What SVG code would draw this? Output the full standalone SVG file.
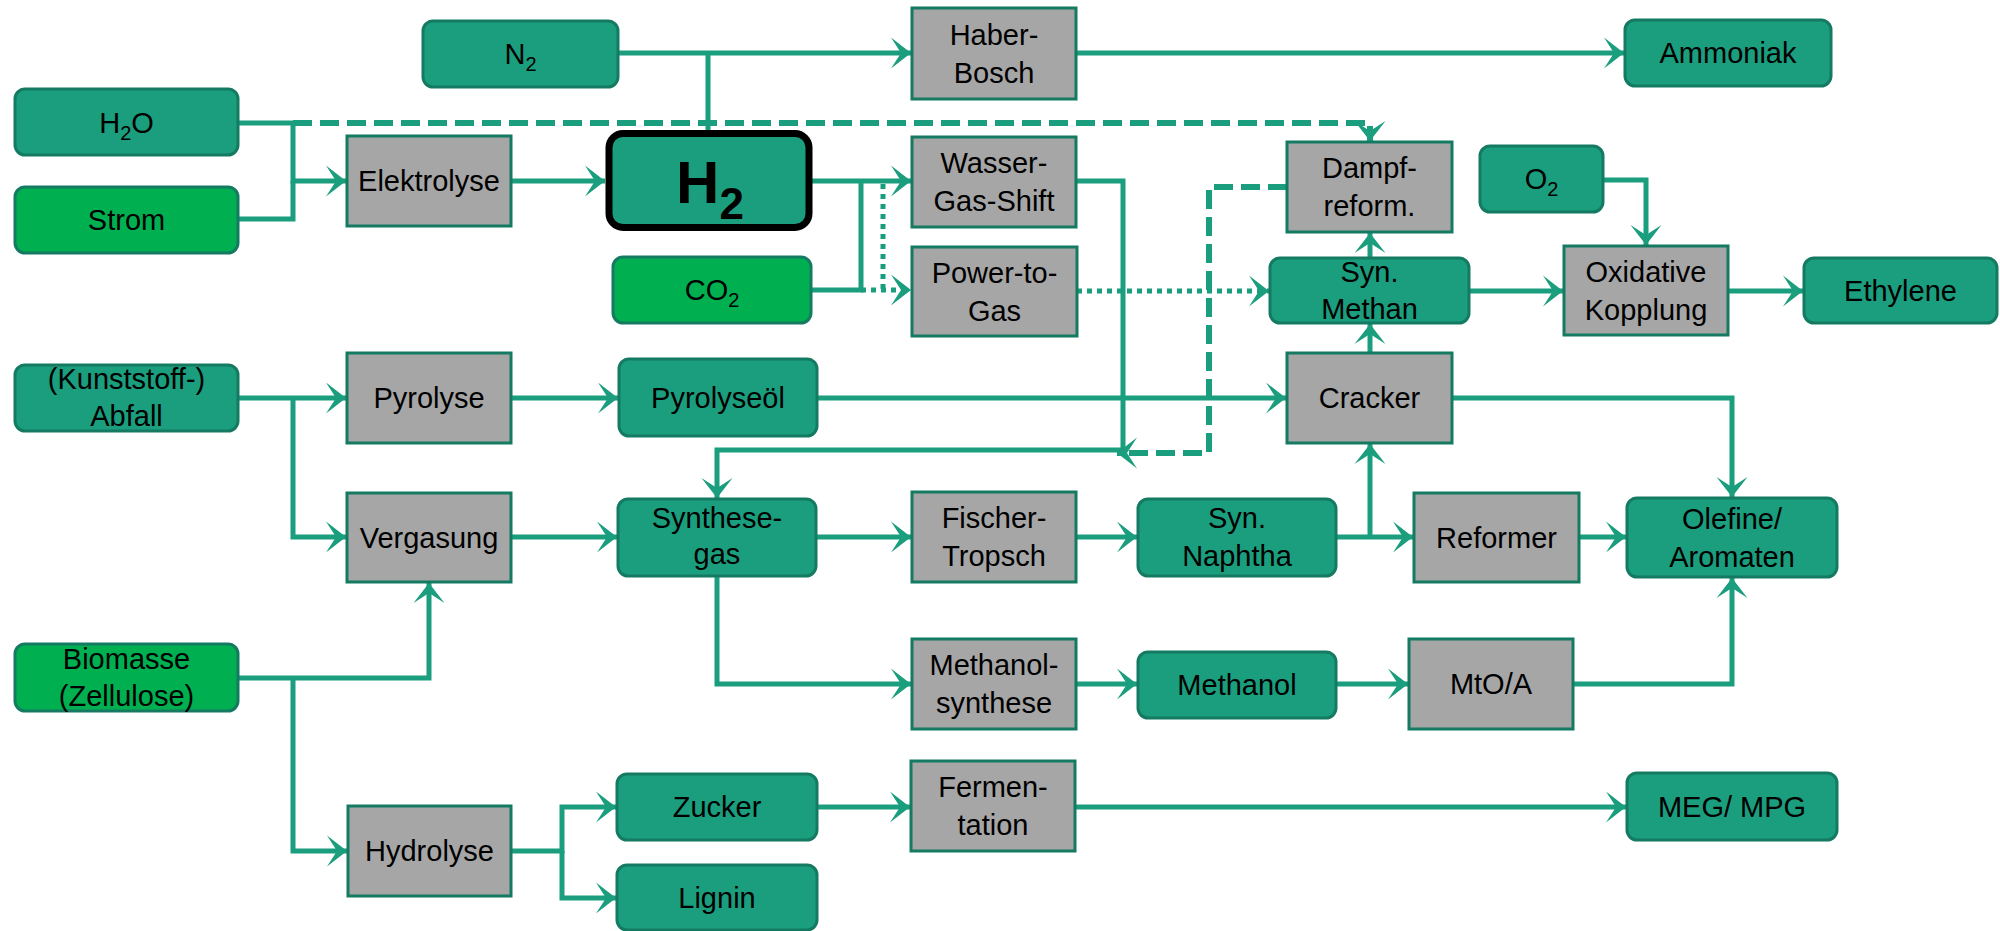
<svg xmlns="http://www.w3.org/2000/svg" width="2000" height="931" viewBox="0 0 2000 931">
<defs>
<marker id="a" markerUnits="userSpaceOnUse" markerWidth="22" markerHeight="34" viewBox="-22 -17 22 34" refX="0" refY="0" orient="auto">
<path d="M0,0 L-20,-15.5 L-10,0 L-20,15.5 Z" fill="#1a9e7e"/>
</marker>
<style>
.c{fill:none;stroke:#1a9e7e;stroke-width:5}
.m{marker-end:url(#a)}
.d{stroke-dasharray:19 8;stroke-width:6}
.o{stroke-dasharray:5 5}
.t{fill:#1a9e7e;stroke:#157a62;stroke-width:3}
.g{fill:#00b050;stroke:#157a62;stroke-width:3}
.p{fill:#a6a6a6;stroke:#157a62;stroke-width:3}
text{font-family:"Liberation Sans",Arial,sans-serif;font-size:29px;fill:#000;text-anchor:middle}
.s{font-size:20px}
</style>
</defs>
<rect width="2000" height="931" fill="#fff"/>
<g id="connectors">
<path class="c m" d="M238,123 H293 V181 H346"/>
<path class="c" d="M238,219 H293 V181"/>
<path class="c d m" d="M293,123 H1370 V141"/>
<path class="c m" d="M511,181 H605"/>
<path class="c m" d="M618,53 H911"/>
<path class="c" d="M708,130 V53"/>
<path class="c m" d="M1076,53 H1624"/>
<path class="c m" d="M812,181 H911"/>
<path class="c" d="M811,290 H861 V181"/>
<path class="c o" d="M883,184 V290"/>
<path class="c o m" d="M861,290 H911"/>
<path class="c m" d="M1076,181 H1123 V450 H717 V498"/>
<path class="c d m" d="M1287,187 H1209 V453 H1117"/>
<path class="c o m" d="M1077,291 H1269"/>
<path class="c m" d="M1370,258 V233"/>
<path class="c m" d="M1370,353 V324"/>
<path class="c m" d="M1469,291 H1563"/>
<path class="c m" d="M1603,180 H1646 V245"/>
<path class="c m" d="M1728,291 H1803"/>
<path class="c m" d="M238,398 H346"/>
<path class="c m" d="M293,398 V537 H346"/>
<path class="c m" d="M511,398 H618"/>
<path class="c m" d="M817,398 H1286"/>
<path class="c m" d="M1452,398 H1732 V497"/>
<path class="c m" d="M511,537 H617"/>
<path class="c m" d="M816,537 H911"/>
<path class="c m" d="M1076,537 H1137"/>
<path class="c m" d="M1336,537 H1413"/>
<path class="c m" d="M1370,537 V444"/>
<path class="c m" d="M1579,537 H1626"/>
<path class="c m" d="M717,576 V684 H911"/>
<path class="c m" d="M1076,684 H1137"/>
<path class="c m" d="M1336,684 H1408"/>
<path class="c m" d="M1573,684 H1732 V578"/>
<path class="c m" d="M238,678 H429 V583"/>
<path class="c m" d="M293,678 V851 H347"/>
<path class="c m" d="M511,851 H562 V807 H616"/>
<path class="c m" d="M562,851 V898 H616"/>
<path class="c m" d="M817,807 H910"/>
<path class="c m" d="M1075,807 H1626"/>
</g>
<g id="h2o"><rect class="t" x="15" y="89" width="223" height="66" rx="10"/><text x="126.5" y="133">H<tspan class="s" dy="7">2</tspan><tspan dy="-7">O</tspan></text></g>
<g id="strom"><rect class="g" x="15" y="187" width="223" height="66" rx="10"/><text x="126.5" y="230">Strom</text></g>
<g id="n2"><rect class="t" x="423" y="21" width="195" height="66" rx="10"/><text x="520.5" y="64">N<tspan class="s" dy="7">2</tspan></text></g>
<g id="haber"><rect class="p" x="912" y="8" width="164" height="91"/><text x="994" y="45">Haber-</text><text x="994" y="83">Bosch</text></g>
<g id="ammoniak"><rect class="t" x="1625" y="20" width="206" height="66" rx="10"/><text x="1728" y="63">Ammoniak</text></g>
<g id="elektrolyse"><rect class="p" x="347" y="136" width="164" height="90"/><text x="429" y="191">Elektrolyse</text></g>
<g id="h2"><rect x="609" y="133.5" width="200" height="94" rx="14" fill="#1a9e7e" stroke="#000" stroke-width="7"/><text x="710" y="203" style="font-weight:bold;font-size:60px">H<tspan dy="16" style="font-size:44px">2</tspan></text></g>
<g id="wgs"><rect class="p" x="912" y="137" width="164" height="90"/><text x="994" y="173">Wasser-</text><text x="994" y="211">Gas-Shift</text></g>
<g id="dampf"><rect class="p" x="1287" y="142" width="165" height="90"/><text x="1369.5" y="178">Dampf-</text><text x="1369.5" y="216">reform.</text></g>
<g id="o2"><rect class="t" x="1480" y="146" width="123" height="66" rx="10"/><text x="1541.5" y="189">O<tspan class="s" dy="7">2</tspan></text></g>
<g id="co2"><rect class="g" x="613" y="257" width="198" height="66" rx="10"/><text x="712" y="300">CO<tspan class="s" dy="7">2</tspan></text></g>
<g id="ptg"><rect class="p" x="912" y="247" width="165" height="89"/><text x="994.5" y="283">Power-to-</text><text x="994.5" y="321">Gas</text></g>
<g id="synmethan"><rect class="t" x="1270" y="258" width="199" height="65" rx="10"/><text x="1369.5" y="282">Syn.</text><text x="1369.5" y="319">Methan</text></g>
<g id="oxidative"><rect class="p" x="1564" y="246" width="164" height="89"/><text x="1646" y="282">Oxidative</text><text x="1646" y="320">Kopplung</text></g>
<g id="ethylene"><rect class="t" x="1804" y="258" width="193" height="65" rx="10"/><text x="1900.5" y="301">Ethylene</text></g>
<g id="abfall"><rect class="t" x="15" y="365" width="223" height="66" rx="10"/><text x="126.5" y="389">(Kunststoff-)</text><text x="126.5" y="426">Abfall</text></g>
<g id="pyrolyse"><rect class="p" x="347" y="353" width="164" height="90"/><text x="429" y="408">Pyrolyse</text></g>
<g id="pyrolyseoel"><rect class="t" x="619" y="359" width="198" height="77" rx="10"/><text x="718" y="408">Pyrolyseöl</text></g>
<g id="cracker"><rect class="p" x="1287" y="353" width="165" height="90"/><text x="1369.5" y="408">Cracker</text></g>
<g id="vergasung"><rect class="p" x="347" y="493" width="164" height="89"/><text x="429" y="548">Vergasung</text></g>
<g id="synthesegas"><rect class="t" x="618" y="499" width="198" height="77" rx="10"/><text x="717" y="528">Synthese-</text><text x="717" y="564">gas</text></g>
<g id="fischer"><rect class="p" x="912" y="492" width="164" height="90"/><text x="994" y="528">Fischer-</text><text x="994" y="566">Tropsch</text></g>
<g id="naphtha"><rect class="t" x="1138" y="499" width="198" height="77" rx="10"/><text x="1237" y="528">Syn.</text><text x="1237" y="566">Naphtha</text></g>
<g id="reformer"><rect class="p" x="1414" y="493" width="165" height="89"/><text x="1496.5" y="548">Reformer</text></g>
<g id="olefine"><rect class="t" x="1627" y="498" width="210" height="79" rx="10"/><text x="1732" y="529">Olefine/</text><text x="1732" y="567">Aromaten</text></g>
<g id="biomasse"><rect class="g" x="15" y="644" width="223" height="67" rx="10"/><text x="126.5" y="669">Biomasse</text><text x="126.5" y="706">(Zellulose)</text></g>
<g id="methanolsynthese"><rect class="p" x="912" y="639" width="164" height="90"/><text x="994" y="675">Methanol-</text><text x="994" y="713">synthese</text></g>
<g id="methanol"><rect class="t" x="1138" y="652" width="198" height="66" rx="10"/><text x="1237" y="695">Methanol</text></g>
<g id="mtoa"><rect class="p" x="1409" y="639" width="164" height="90"/><text x="1491" y="694">MtO/A</text></g>
<g id="hydrolyse"><rect class="p" x="348" y="806" width="163" height="90"/><text x="429.5" y="861">Hydrolyse</text></g>
<g id="zucker"><rect class="t" x="617" y="774" width="200" height="66" rx="10"/><text x="717" y="817">Zucker</text></g>
<g id="lignin"><rect class="t" x="617" y="865" width="200" height="65" rx="10"/><text x="717" y="908">Lignin</text></g>
<g id="fermentation"><rect class="p" x="911" y="761" width="164" height="90"/><text x="993" y="797">Fermen-</text><text x="993" y="835">tation</text></g>
<g id="meg"><rect class="t" x="1627" y="773" width="210" height="67" rx="10"/><text x="1732" y="817">MEG/ MPG</text></g>
</svg>
